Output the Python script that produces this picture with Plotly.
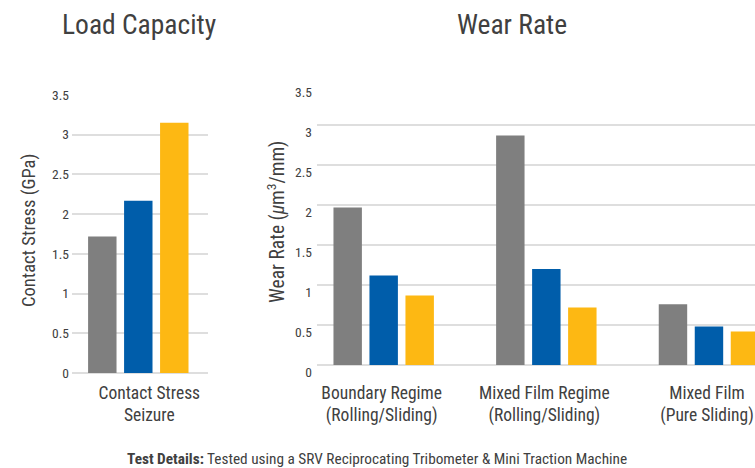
import plotly.graph_objects as go

# ---- data ----
load_categories = ["Contact Stress<br>Seizure"]
load_gray = [1.72]
load_blue = [2.17]
load_yellow = [3.15]

wear_categories = ["Boundary Regime<br>(Rolling/Sliding)",
                   "Mixed Film Regime<br>(Rolling/Sliding)",
                   "Mixed Film<br>(Pure Sliding)"]
wear_gray = [1.97, 2.87, 0.76]
wear_blue = [1.12, 1.20, 0.48]
wear_yellow = [0.87, 0.72, 0.42]

y_ticks = [0, 0.5, 1, 1.5, 2, 2.5, 3, 3.5]
y_tick_labels = ["0", "0.5", "1", "1.5", "2", "2.5", "3", "3.5"]

GRAY = "#7f7f7f"
BLUE = "#005daa"
YELLOW = "#fdb813"
FONT = "Roboto Condensed, Roboto, Liberation Sans, sans-serif"
TXT = "#404040"
W, H = 755, 468

fig = go.Figure()
for vals, col in [(load_gray, GRAY), (load_blue, BLUE), (load_yellow, YELLOW)]:
    fig.add_trace(go.Bar(x=load_categories, y=vals, marker=dict(color=col, line=dict(width=0)),
                         xaxis="x", yaxis="y", showlegend=False))
for vals, col in [(wear_gray, GRAY), (wear_blue, BLUE), (wear_yellow, YELLOW)]:
    fig.add_trace(go.Bar(x=wear_categories, y=vals, marker=dict(color=col, line=dict(width=0)),
                         xaxis="x2", yaxis="y2", showlegend=False))

grid = "#dedede"
common_y = dict(range=[0, 3.5], tickvals=y_ticks, ticktext=y_tick_labels, showgrid=True,
                gridcolor=grid, gridwidth=1.5, zeroline=True, zerolinecolor=grid, zerolinewidth=1.5,
                showline=False, ticks="", tickfont=dict(family=FONT, size=13.5, color=TXT),
                fixedrange=True, automargin=False)
common_x = dict(showline=False, ticks="", showgrid=False, automargin=False,
                tickfont=dict(family=FONT, size=17.5, color=TXT), fixedrange=True)

fig.update_layout(
    template="none",
    width=W, height=H,
    margin=dict(l=0, r=0, t=0, b=0, autoexpand=False),
    paper_bgcolor="white", plot_bgcolor="white",
    barmode="group", bargap=0.336, bargroupgap=0.21,
    xaxis=dict(domain=[72 / W, 208 / W], anchor="y", range=[-0.4077, 0.4287],
               ticklabelshift=11, ticklabelstandoff=7, **common_x),
    yaxis=dict(domain=[(H - 373) / H, (H - 95) / H], anchor="x", ticklabelstandoff=2, **common_y),
    xaxis2=dict(domain=[317 / W, 1.0], anchor="y2", range=[-0.41, 2.283],
                ticklabelshift=-2, ticklabelstandoff=15, **common_x),
    yaxis2=dict(domain=[(H - 365) / H, (H - 85) / H], anchor="x2", ticklabelshift=7,
                ticklabelstandoff=4, **common_y),
    font=dict(family=FONT, color=TXT),
)

ann = [
    dict(text="Load Capacity", x=139 / W, y=(H - 24) / H, size=27.5),
    dict(text="Wear Rate", x=511.7 / W, y=(H - 24) / H, size=27.5),
    dict(text="Contact Stress (GPa)", x=29 / W, y=(H - 231) / H, size=18.5, angle=-90),
    dict(text="Wear Rate (<i>μ</i>m<sup>3</sup>/mm)", x=276 / W, y=(H - 222) / H, size=19.5, angle=-90),
    dict(text="<b>Test Details:</b> Tested using a SRV Reciprocating Tribometer &amp; Mini Traction Machine",
         x=377 / W, y=(H - 459) / H, size=15.3),
]
for a in ann:
    fig.add_annotation(text=a["text"], x=a["x"], y=a["y"], xref="paper", yref="paper",
                       xanchor="center", yanchor="middle", showarrow=False,
                       textangle=a.get("angle", 0),
                       font=dict(family=FONT, size=a["size"], color=TXT))

fig.write_html("out.html", config={"displayModeBar": False},
               post_script="document.body.style.margin='0';")
